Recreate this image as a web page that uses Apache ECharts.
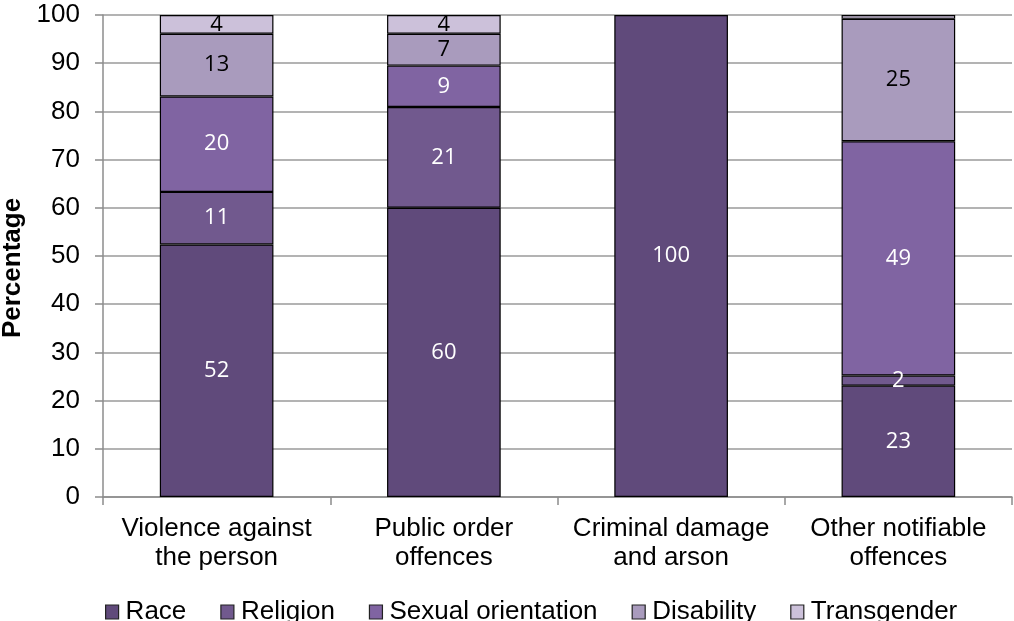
<!DOCTYPE html>
<html>
<head>
<meta charset="utf-8">
<script src="https://cdn.jsdelivr.net/npm/echarts@6/dist/echarts.min.js"></script>
<style>
  html, body { margin: 0; padding: 0; background: #fff; }
  #chart { width: 1014px; height: 621px; }
</style>
</head>
<body>
<div id="chart"></div>
<script>
// offence categories
const categories = ['Violence against\nthe person', 'Public order\noffences', 'Criminal damage\nand arson', 'Other notifiable\noffences']
// share of each motivation, percent
const race = [52.4, 60.0, 100, 23.1]
const religion = [10.9, 20.9, 0, 2.1]
const sexualOrientation = [19.8, 8.6, 0, 48.6]
const disability = [13.0, 6.6, 0, 25.4]
const transgender = [3.9, 3.9, 0, 0.8]
const yTicks = [0, 10, 20, 30, 40, 50, 60, 70, 80, 90, 100]

const chart = echarts.init(document.getElementById('chart'))

function makeSeries(name, data, color, labelColor) {
  return {
    name: name,
    type: 'bar',
    stack: 'total',
    barWidth: '50%',
    // empty segments are left out so no border is drawn for them
    data: data.map(v => (v === 0 ? '-' : v)),
    itemStyle: {
      color: color,
      borderColor: '#000',
      borderWidth: 1.2
    },
    label: {
      show: true,
      position: 'inside',
      color: labelColor,
      fontFamily: 'Open Sans',
      fontSize: 22,
      formatter: p => (p.value >= 1.5 ? Math.round(p.value) : '')
    },
    emphasis: { disabled: true }
  }
}

const options = {
  animation: false,
  grid: {
    left: 103,
    right: 2,
    top: 15,
    bottom: 124,
    containLabel: false,
    outerBoundsMode: 'none'
  },
  legend: {
    top: 594,
    left: 100,
    icon: 'rect',
    itemWidth: 13,
    itemHeight: 14,
    itemGap: 34,
    textStyle: {
      color: '#000',
      fontFamily: 'Liberation Sans',
      fontSize: 26,
      padding: [0, 0, 0, 2]
    },
    itemStyle: { borderColor: '#222', borderWidth: 1.2 },
    data: ['Race', 'Religion', 'Sexual orientation', 'Disability', 'Transgender']
  },
  xAxis: {
    type: 'category',
    data: categories,
    axisLine: { lineStyle: { color: '#8c8c8c', width: 1.5 } },
    axisTick: { show: true, length: 8, lineStyle: { color: '#8c8c8c', width: 1.5 } },
    axisLabel: {
      interval: 0,
      color: '#000',
      fontFamily: 'Liberation Sans',
      fontSize: 26,
      lineHeight: 29,
      margin: 17
    }
  },
  yAxis: {
    type: 'value',
    min: 0,
    max: 100,
    interval: 10,
    name: 'Percentage',
    nameLocation: 'middle',
    nameGap: 71,
    nameTextStyle: {
      color: '#000',
      fontFamily: 'Liberation Sans',
      fontSize: 26,
      fontWeight: 'bold',
      padding: [0, 24, 0, 0]
    },
    axisLine: { show: true, lineStyle: { color: '#8c8c8c', width: 1.5 } },
    axisTick: { show: true, length: 8, lineStyle: { color: '#8c8c8c', width: 1.5 } },
    splitLine: { lineStyle: { color: '#9a9a9a', width: 1.5 } },
    axisLabel: {
      color: '#000',
      fontFamily: 'Liberation Sans',
      fontSize: 26,
      margin: 23,
      formatter: v => (yTicks.includes(v) ? v : '')
    }
  },
  series: [
    makeSeries('Race', race, '#604a7b', '#fff'),
    makeSeries('Religion', religion, '#71598e', '#fff'),
    makeSeries('Sexual orientation', sexualOrientation, '#8064a2', '#fff'),
    makeSeries('Disability', disability, '#a99bbd', '#000'),
    makeSeries('Transgender', transgender, '#ccc1da', '#000')
  ]
}
chart.setOption(options)
</script>
</body>
</html>
